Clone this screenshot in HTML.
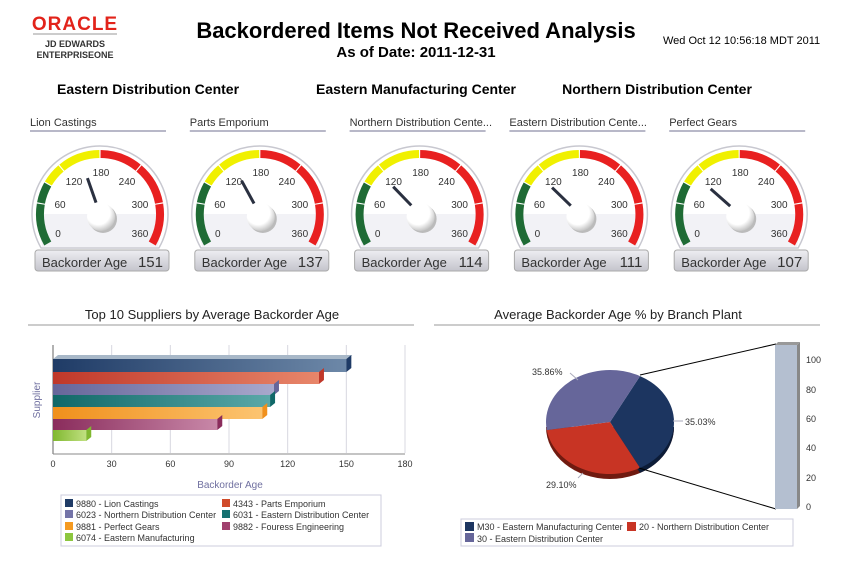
<!DOCTYPE html>
<html><head><meta charset="utf-8"><style>
body{margin:0;background:#fff;width:851px;height:564px;overflow:hidden;font-family:"Liberation Sans",sans-serif;}
svg text{font-family:"Liberation Sans",sans-serif;}
</style></head><body>
<svg id="s" width="851" height="564" viewBox="0 0 851 564" xmlns="http://www.w3.org/2000/svg">
<defs>
<linearGradient id="lb" x1="0" y1="0" x2="0" y2="1"><stop offset="0" stop-color="#eeeef2"/><stop offset="1" stop-color="#c4c4cc"/></linearGradient>
<radialGradient id="cap" cx="0.4" cy="0.35" r="0.7"><stop offset="0.6" stop-color="#fff"/><stop offset="1" stop-color="#bbb"/></radialGradient>
</defs>
<text x="75" y="30" font-size="19" font-weight="bold" fill="#e2231a" text-anchor="middle" letter-spacing="1">ORACLE</text>
<line x1="33" y1="34" x2="117" y2="34" stroke="#999" stroke-width="1"/>
<text x="75" y="47" font-size="9" font-weight="bold" fill="#333" text-anchor="middle">JD EDWARDS</text>
<text x="75" y="58" font-size="9" font-weight="bold" fill="#333" text-anchor="middle">ENTERPRISEONE</text>
<text x="416" y="38" font-size="22" font-weight="bold" text-anchor="middle">Backordered Items Not Received Analysis</text>
<text x="416" y="57" font-size="15" font-weight="bold" text-anchor="middle">As of Date: 2011-12-31</text>
<text x="663" y="44" font-size="11">Wed Oct 12 10:56:18 MDT 2011</text>
<text x="148" y="94" font-size="14" font-weight="bold" text-anchor="middle">Eastern Distribution Center</text>
<text x="416" y="94" font-size="14" font-weight="bold" text-anchor="middle">Eastern Manufacturing Center</text>
<text x="657" y="94" font-size="14" font-weight="bold" text-anchor="middle">Northern Distribution Center</text>
<g id="gauges"></g>
<!-- bar chart -->
<text x="212" y="319" font-size="13" fill="#222" text-anchor="middle">Top 10 Suppliers by Average Backorder Age</text>
<line x1="28" y1="325" x2="414" y2="325" stroke="#ccc" stroke-width="2"/>
<text x="618" y="319" font-size="13" fill="#222" text-anchor="middle">Average Backorder Age % by Branch Plant</text>
<line x1="434" y1="325" x2="820" y2="325" stroke="#ccc" stroke-width="2"/>
<g id="bars"></g>
<text x="230" y="488" font-size="10" fill="#7070a0" text-anchor="middle">Backorder Age</text>
<text transform="translate(40,400) rotate(-90)" font-size="10" fill="#7070a0" text-anchor="middle">Supplier</text>
<rect x="61" y="495" width="320" height="51" fill="#fff" stroke="#ccd" />
<g font-size="9" fill="#333">
<rect x="65" y="499" width="8" height="8" fill="#1f3b66"/><text x="76" y="507">9880 - Lion Castings</text>
<rect x="222" y="499" width="8" height="8" fill="#d04a2a"/><text x="233" y="507">4343 - Parts Emporium</text>
<rect x="65" y="510" width="8" height="8" fill="#7474a8"/><text x="76" y="518">6023 - Northern Distribution Center</text>
<rect x="222" y="510" width="8" height="8" fill="#147070"/><text x="233" y="518">6031 - Eastern Distribution Center</text>
<rect x="65" y="522" width="8" height="8" fill="#f59a20"/><text x="76" y="530">9881 - Perfect Gears</text>
<rect x="222" y="522" width="8" height="8" fill="#a0406e"/><text x="233" y="530">9882 - Fouress Engineering</text>
<rect x="65" y="533" width="8" height="8" fill="#8cc63f"/><text x="76" y="541">6074 - Eastern Manufacturing</text>
</g>
<!-- pie -->
<g id="pie"></g>
<line x1="640" y1="375" x2="776" y2="344" stroke="#000"/>
<line x1="639" y1="468" x2="776" y2="509" stroke="#000"/>
<rect x="775" y="345" width="22" height="164" fill="#b4bfd0"/>
<polygon points="797,345 800,342 800,506 797,509" fill="#888"/>
<polygon points="775,345 778,342 800,342 797,345" fill="#999"/>
<g font-size="9" fill="#333">
<text x="806" y="363">100</text><text x="806" y="393">80</text><text x="806" y="422">60</text>
<text x="806" y="451">40</text><text x="806" y="481">20</text><text x="806" y="510">0</text>
<text x="532" y="375">35.86%</text><text x="685" y="425">35.03%</text><text x="546" y="488">29.10%</text>
</g>
<line x1="570" y1="373" x2="578" y2="380" stroke="#aab"/>
<line x1="673" y1="421" x2="683" y2="421" stroke="#aab"/>
<line x1="578" y1="478" x2="583" y2="473" stroke="#aab"/>
<rect x="461" y="519" width="332" height="27" fill="#fff" stroke="#ccd"/>
<g font-size="9" fill="#333">
<rect x="465" y="522" width="9" height="9" fill="#1c3560"/><text x="477" y="530">M30 - Eastern Manufacturing Center</text>
<rect x="627" y="522" width="9" height="9" fill="#c83424"/><text x="639" y="530">20 - Northern Distribution Center</text>
<rect x="465" y="533" width="9" height="9" fill="#66669a"/><text x="477" y="542">30 - Eastern Distribution Center</text>
</g>
</svg>
<script>
var NS="http://www.w3.org/2000/svg";
function el(p,t,a,txt){var e=document.createElementNS(NS,t);for(var k in a)e.setAttribute(k,a[k]);if(txt!==undefined)e.textContent=txt;p.appendChild(e);return e;}
function pt(cx,cy,r,v){var a=(210-v*240/360)*Math.PI/180;return [cx+r*Math.cos(a),cy-r*Math.sin(a)];}
function arc(cx,cy,r1,r2,v1,v2){var a=pt(cx,cy,r2,v1),b=pt(cx,cy,r2,v2),c=pt(cx,cy,r1,v2),d=pt(cx,cy,r1,v1);var lg=(v2-v1)*240/360>180?1:0;
return "M"+a+" A"+r2+","+r2+" 0 "+lg+" 1 "+b+" L"+c+" A"+r1+","+r1+" 0 "+lg+" 0 "+d+"Z";}
var G=document.getElementById("gauges");
var gs=[["Lion Castings",151],["Parts Emporium",137],["Northern Distribution Cente...",114],["Eastern Distribution Cente...",111],["Perfect Gears",107]];
gs.forEach(function(g,i){var x0=30+i*159.8,cx=x0+70,cy=214;
el(G,"text",{x:x0,y:126,"font-size":11,fill:"#333"},g[0]);
el(G,"line",{x1:x0,y1:131,x2:x0+136,y2:131,stroke:"#b8b8c8","stroke-width":2});
var A=pt(cx,cy,68,0),B=pt(cx,cy,68,360);
el(G,"path",{d:"M"+A+" A68,68 0 1 1 "+B+"Z",fill:"#fff",stroke:"#c8c8d0","stroke-width":1.5});
el(G,"path",{d:"M"+(cx-63)+","+cy+" L"+(cx+63)+","+cy+" L"+(B[0]-1)+","+(B[1]-1)+" L"+(A[0]+1)+","+(A[1]-1)+"Z",fill:"#f2f2f6"});
var segs=[[0,60,"#1f6b35"],[60,90,"#1f6b35"],[90,120,"#f0f000"],[120,180,"#f0f000"],[180,240,"#e82020"],[240,300,"#e82020"],[300,360,"#e82020"]];
segs.forEach(function(s){el(G,"path",{d:arc(cx,cy,56,64,s[0]+0.8,s[1]-0.8),fill:s[2]});});
var labs=[[0,-42,23],[60,-40,-6],[120,-26,-29],[180,1,-38],[240,27,-29],[300,40,-6],[360,40,23]];
labs.forEach(function(l){el(G,"text",{x:cx+l[1],y:cy+l[2],"font-size":10,fill:"#333","text-anchor":"middle"},l[0]);});
var n1=pt(cx,cy,12,g[1]),n2=pt(cx,cy,38,g[1]);
el(G,"line",{x1:n1[0],y1:n1[1],x2:n2[0],y2:n2[1],stroke:"#2a3040","stroke-width":3});
el(G,"circle",{cx:cx+3,cy:cy+5,r:14,fill:"#bbb"});
el(G,"circle",{cx:cx+1,cy:cy+3,r:14,fill:"url(#cap)"});
el(G,"rect",{x:x0+5,y:250,width:134,height:21,rx:3,fill:"url(#lb)",stroke:"#aaa"});
el(G,"text",{x:x0+12,y:267,"font-size":13,fill:"#333"},"Backorder Age");
el(G,"text",{x:x0+133,y:267,"font-size":15,fill:"#333","text-anchor":"end"},g[1]);
});
var Bg=document.getElementById("bars");
var X=function(v){return 53+v*352/180;};
for(var v=0;v<=180;v+=30){el(Bg,"line",{x1:X(v),y1:345,x2:X(v),y2:453,stroke:"#d8d8e0"});
el(Bg,"text",{x:X(v),y:467,"font-size":9,fill:"#333","text-anchor":"middle"},v);}
el(Bg,"line",{x1:53,y1:345,x2:53,y2:454,stroke:"#666"});
el(Bg,"line",{x1:53,y1:454,x2:405,y2:454,stroke:"#888"});
var bars=[[359,372,150,"#1f3b66","#6d88a8"],[372,384,136,"#c0382a","#e8866a"],[384,395,113,"#66669a","#a8a8cc"],[395,407,111,"#106868","#5aa8a8"],[407,419,107,"#f0901c","#fcc470"],[419,430,84,"#8a2c5c","#c888a8"],[430,441,17,"#80b830","#c0e080"]];
bars.forEach(function(b,i){var id="bg"+i;var lg=el(document.querySelector("defs"),"linearGradient",{id:id,x1:0,y1:0,x2:1,y2:0});
el(lg,"stop",{offset:0,"stop-color":b[3]});el(lg,"stop",{offset:1,"stop-color":b[4]});
var w=X(b[2])-53;
if(i==0)el(Bg,"polygon",{points:"53,"+b[0]+" 58,"+(b[0]-4)+" "+(53+w+6)+","+(b[0]-4)+" "+(53+w)+","+b[0],fill:"#a8b8c8"});
el(Bg,"rect",{x:53,y:b[0],width:w,height:b[1]-b[0],fill:"url(#"+id+")"});
el(Bg,"polygon",{points:(53+w)+","+b[0]+" "+(53+w+5)+","+(b[0]-4)+" "+(53+w+5)+","+(b[1]-4)+" "+(53+w)+","+b[1],fill:b[3]});});
var P=document.getElementById("pie"),cx=610,cy=422,rx=64,ry=52;
function ep(t,dy){t=t*Math.PI/180;return [cx+rx*Math.cos(t),cy+ry*Math.sin(t)+(dy||0)];}
function slice(a1,a2,c,dy){var a=ep(a1,dy),b=ep(a2,dy);return "M"+cx+","+(cy+dy)+" L"+a+" A"+rx+","+ry+" 0 "+((a2-a1)>180?1:0)+" 1 "+b+"Z";}
el(P,"path",{d:slice(0,180,"",5),fill:"#701a10"});
el(P,"path",{d:slice(0,62,"",5),fill:"#0c1c38"});
el(P,"path",{d:slice(-62,62,"",0),fill:"#1c3560"});
el(P,"path",{d:slice(62,171,"",0),fill:"#c83424"});
el(P,"path",{d:slice(171,298,"",0),fill:"#66669a"});
</script>
</body></html>
